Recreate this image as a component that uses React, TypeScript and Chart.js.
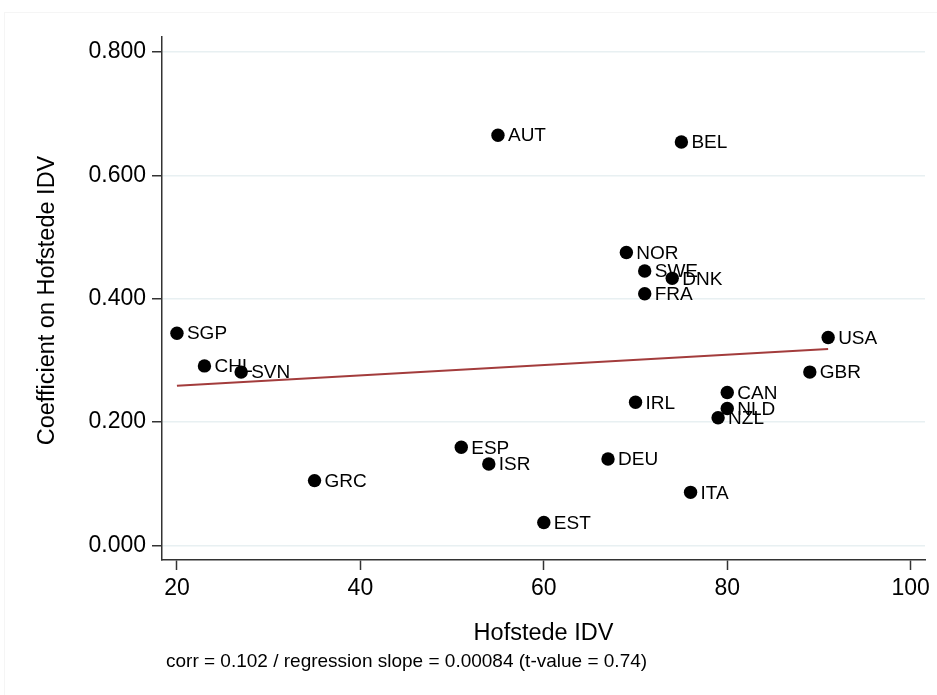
import React, { useEffect, useRef } from "react";
import { Chart, registerables } from "chart.js";

Chart.register(...registerables);

// ---- data ----
const countries = ["AUT", "BEL", "NOR", "SWE", "DNK", "FRA", "SGP", "USA", "CHL", "SVN", "GBR", "CAN", "IRL", "NLD", "NZL", "ESP", "ISR", "DEU", "GRC", "ITA", "EST"];
const idv = [55, 75, 69, 71, 74, 71, 20, 91, 23, 27, 89, 80, 70, 80, 79, 51, 54, 67, 35, 76, 60];
const coef = [0.665, 0.654, 0.475, 0.445, 0.433, 0.408, 0.344, 0.337, 0.291, 0.281, 0.281, 0.248, 0.232, 0.222, 0.207, 0.159, 0.132, 0.140, 0.105, 0.086, 0.037];
const fitX = [20, 91];
const fitY = [0.259, 0.3185];
const xTicks = [20, 40, 60, 80, 100];
const yTicks = [0, 0.2, 0.4, 0.6, 0.8];
const xTitle = "Hofstede IDV";
const yTitle = "Coefficient on Hofstede IDV";
const note = "corr = 0.102 / regression slope = 0.00084 (t-value = 0.74)";

const FONT = "'Liberation Sans', Arial, Helvetica, sans-serif";

const textPlugin = {
  id: "textPlugin",
  beforeDatasetsDraw(chart: any) {
    const ctx = chart.ctx;
    const xs = chart.scales.x;
    const ys = chart.scales.y;
    ctx.save();
    ctx.font = `19px ${FONT}`;
    ctx.fillStyle = "#000";
    ctx.textAlign = "left";
    ctx.textBaseline = "middle";
    countries.forEach((c, i) => {
      ctx.fillText(c, xs.getPixelForValue(idv[i]) + 10, ys.getPixelForValue(coef[i]) + 1);
    });
    ctx.restore();
  },
  afterDraw(chart: any) {
    const { ctx, chartArea } = chart;
    ctx.save();
    ctx.fillStyle = "#000";
    ctx.font = `23.5px ${FONT}`;
    ctx.textAlign = "center";
    ctx.textBaseline = "alphabetic";
    ctx.fillText(xTitle, (chartArea.left + chartArea.right) / 2, 639.5);
    ctx.save();
    ctx.translate(53.5, (chartArea.top + chartArea.bottom) / 2 + 2);
    ctx.rotate(-Math.PI / 2);
    ctx.fillText(yTitle, 0, 0);
    ctx.restore();
    ctx.font = `19px ${FONT}`;
    ctx.textAlign = "left";
    ctx.fillText(note, 166, 667);
    ctx.restore();
  },
};

export default function App() {
  const ref = useRef<HTMLCanvasElement | null>(null);

  useEffect(() => {
    if (!ref.current) return;
    const chart = new Chart(ref.current, {
      type: "scatter",
      data: {
        datasets: [
          {
            label: "fit",
            data: fitX.map((x, i) => ({ x, y: fitY[i] })),
            showLine: true,
            borderColor: "#a33c3c",
            borderWidth: 2,
            pointRadius: 0,
            order: 0,
          } as any,
          {
            label: "countries",
            data: idv.map((x, i) => ({ x, y: coef[i] })),
            backgroundColor: "#000",
            borderWidth: 0,
            pointRadius: 6.7,
            order: 1,
          },
        ],
      },
      options: {
        responsive: false,
        animation: false,
        devicePixelRatio: 1,
        layout: { padding: { left: 0, right: 12, top: 37, bottom: 0 } },
        plugins: { legend: { display: false }, tooltip: { enabled: false } },
        scales: {
          x: {
            type: "linear",
            min: 18.37,
            max: 101.56,
            afterBuildTicks: (s: any) => {
              s.ticks = xTicks.map((v) => ({ value: v }));
            },
            afterFit: (s: any) => {
              s.height = 135;
            },
            grid: { drawOnChartArea: false, tickLength: 10, tickColor: "#333", tickWidth: 1.5 },
            border: { color: "#333", width: 1.5 },
            ticks: {
              font: { family: FONT, size: 23 },
              color: "#000",
              padding: 5,
              maxRotation: 0,
              autoSkip: false,
              callback: (v: any) => String(v),
            },
          },
          y: {
            type: "linear",
            min: -0.0237,
            max: 0.8243,
            afterBuildTicks: (s: any) => {
              s.ticks = yTicks.map((v) => ({ value: v }));
            },
            afterFit: (s: any) => {
              s.width = 162;
            },
            grid: { color: "#e8f0f2", lineWidth: 1.5, tickLength: 10, tickColor: "#333", tickWidth: 1.5 },
            border: { color: "#333", width: 1.5 },
            ticks: {
              font: { family: FONT, size: 23 },
              color: "#000",
              padding: 6,
              autoSkip: false,
              callback: (v: any) => Number(v).toFixed(3),
            },
          },
        },
      } as any,
      plugins: [textPlugin],
    });
    return () => chart.destroy();
  }, []);

  return (
    <div style={{ position: "absolute", left: 0, top: 0, width: 937, height: 695, background: "#fff", overflow: "hidden" }}>
      <div
        style={{
          position: "absolute",
          left: 4,
          top: 12,
          width: 940,
          height: 700,
          borderTop: "1px solid #f5f5f5",
          borderLeft: "1px solid #f5f5f5",
        }}
      />
      <canvas ref={ref} width={937} height={695} style={{ position: "absolute", left: 0, top: 0 }} />
    </div>
  );
}
